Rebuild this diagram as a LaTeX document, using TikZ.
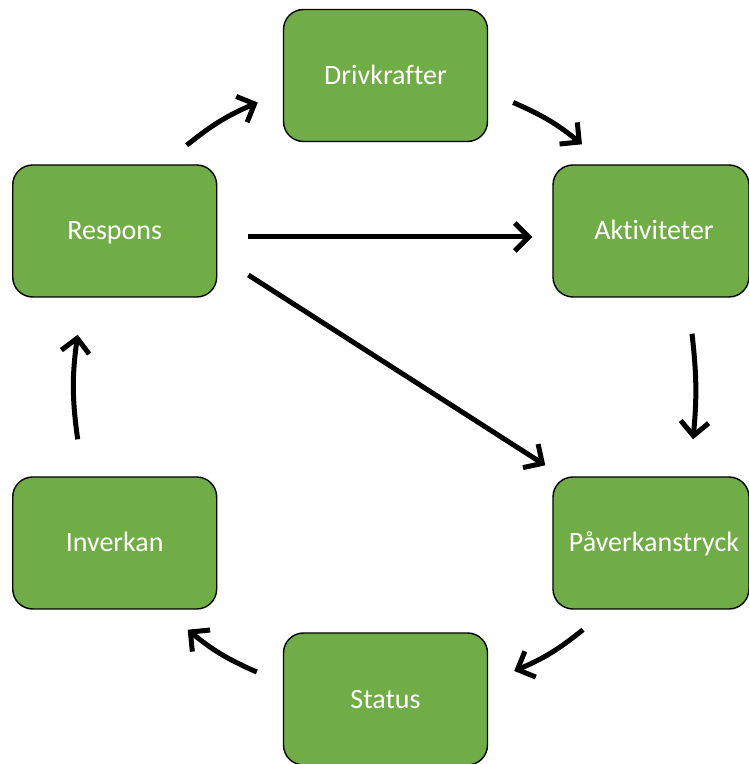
\documentclass[tikz,border=0pt]{standalone}
\usepackage{fontspec}
\setmainfont[Ligatures={NoCommon}]{Carlito}
\usetikzlibrary{arrows.meta}
\definecolor{boxgreen}{HTML}{70AD47}
\begin{document}
\begin{tikzpicture}[x=1pt,y=1pt,
  box/.style={draw=black, line width=1.4pt, fill=boxgreen, rounded corners=20pt,
    minimum width=204pt, minimum height=132pt, inner sep=0pt, text=white,
    text height=20pt, text depth=2pt,
    font=\fontsize{28}{32}\selectfont},
  narrowbox/.style={box, minimum width=196pt},
  arr/.style={line width=5pt, -{Straight Barb[length=14pt,width=28pt]}}]
\useasboundingbox (0,0) rectangle (749,764);
\node[box] (drv) at (385.5,688.5) {Drivkrafter};
\node[box] (resp) at (114.7,533) {Respons};
\node[narrowbox] (akt) at (651,533) {\hspace*{6pt}Aktiviteter};
\node[box] (inv) at (114.7,221) {Inverkan};
\node[narrowbox] (pav) at (651,221) {\hspace*{6pt}Påverkanstryck};
\node[box] (sta) at (385.5,65) {Status};
\draw[arr] ([shift={(72,19)}]resp.north) to[bend left=8] ([shift={(-25,-27)}]drv.west);
\draw[arr] ([shift={(25,-27)}]drv.east) to[bend left=8] ([shift={(-69,20)}]akt.north);
\draw[arr] ([shift={(41,-36)}]akt.south) to[bend left=6] ([shift={(42,37)}]pav.north);
\draw[arr] ([shift={(-68,-20)}]pav.south) to[bend left=8] ([shift={(26,28)}]sta.east);
\draw[arr] ([shift={(-26,27)}]sta.west) to[bend left=8] ([shift={(73,-20)}]inv.south);
\draw[arr] ([shift={(-37,37)}]inv.north) to[bend left=8] ([shift={(-37,-37)}]resp.south);
\draw[arr] ([shift={(31,-6)}]resp.east) -- ([shift={(-20,-6)}]akt.west);
\draw[arr] ([shift={(31,-44)}]resp.east) -- ([shift={(-7,11)}]pav.north west);
\end{tikzpicture}
\end{document}
